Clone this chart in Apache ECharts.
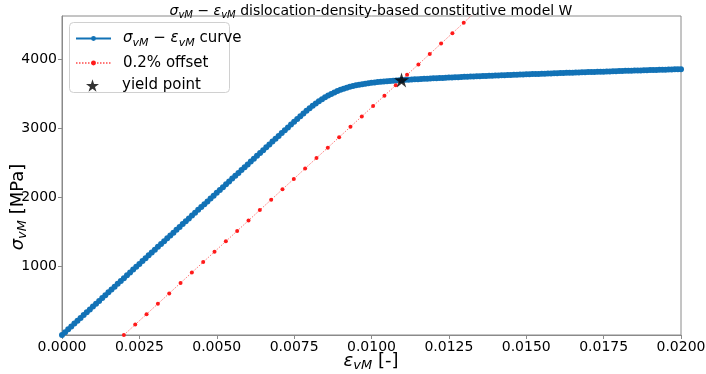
<!DOCTYPE html>
<html>
<head>
<meta charset="utf-8">
<script src="https://cdn.jsdelivr.net/npm/echarts@6/dist/echarts.min.js"></script>
<style>html,body{margin:0;padding:0;background:#fff}#c{width:706px;height:374px}</style>
</head>
<body>
<div id="c"></div>
<script>
// ---- data ----
var strain = [0.0000,0.0001,0.0002,0.0003,0.0004,0.0005,0.0006,0.0007,0.0008,0.0009,
0.0010,0.0011,0.0012,0.0013,0.0014,0.0015,0.0016,0.0017,0.0018,0.0019,
0.0020,0.0021,0.0022,0.0023,0.0024,0.0025,0.0026,0.0027,0.0028,0.0029,
0.0030,0.0031,0.0032,0.0033,0.0034,0.0035,0.0036,0.0037,0.0038,0.0039,
0.0040,0.0041,0.0042,0.0043,0.0044,0.0045,0.0046,0.0047,0.0048,0.0049,
0.0050,0.0051,0.0052,0.0053,0.0054,0.0055,0.0056,0.0057,0.0058,0.0059,
0.0060,0.0061,0.0062,0.0063,0.0064,0.0065,0.0066,0.0067,0.0068,0.0069,
0.0070,0.0071,0.0072,0.0073,0.0074,0.0075,0.0076,0.0077,0.0078,0.0079,
0.0080,0.0081,0.0082,0.0083,0.0084,0.0085,0.0086,0.0087,0.0088,0.0089,
0.0090,0.0091,0.0092,0.0093,0.0094,0.0095,0.0096,0.0097,0.0098,0.0099,
0.0100,0.0101,0.0102,0.0103,0.0104,0.0105,0.0106,0.0107,0.0108,0.0109,
0.0110,0.0111,0.0112,0.0113,0.0114,0.0115,0.0116,0.0117,0.0118,0.0119,
0.0120,0.0121,0.0122,0.0123,0.0124,0.0125,0.0126,0.0127,0.0128,0.0129,
0.0130,0.0131,0.0132,0.0133,0.0134,0.0135,0.0136,0.0137,0.0138,0.0139,
0.0140,0.0141,0.0142,0.0143,0.0144,0.0145,0.0146,0.0147,0.0148,0.0149,
0.0150,0.0151,0.0152,0.0153,0.0154,0.0155,0.0156,0.0157,0.0158,0.0159,
0.0160,0.0161,0.0162,0.0163,0.0164,0.0165,0.0166,0.0167,0.0168,0.0169,
0.0170,0.0171,0.0172,0.0173,0.0174,0.0175,0.0176,0.0177,0.0178,0.0179,
0.0180,0.0181,0.0182,0.0183,0.0184,0.0185,0.0186,0.0187,0.0188,0.0189,
0.0190,0.0191,0.0192,0.0193,0.0194,0.0195,0.0196,0.0197,0.0198,0.0199,
0.0200];
var stress = [0,41,82,124,165,206,247,288,330,371,
412,453,494,536,577,618,659,700,742,783,
824,865,906,948,989,1030,1071,1112,1154,1195,
1236,1277,1318,1360,1401,1442,1483,1524,1566,1607,
1648,1689,1730,1772,1813,1854,1895,1936,1978,2019,
2060,2101,2142,2184,2225,2266,2307,2348,2390,2431,
2472,2513,2554,2596,2637,2678,2719,2760,2802,2843,
2884,2925,2966,3008,3049,3090,3131,3171,3210,3248,
3285,3320,3353,3385,3415,3443,3469,3493,3515,3535,
3553,3569,3583,3596,3607,3617,3626,3634,3641,3648,
3654,3659,3664,3669,3673,3677,3681,3685,3689,3692,
3695,3698,3700,3702,3705,3707,3710,3712,3714,3717,
3719,3721,3723,3725,3727,3730,3732,3734,3736,3738,
3740,3742,3744,3746,3748,3750,3751,3753,3755,3757,
3759,3761,3763,3764,3766,3768,3770,3772,3773,3775,
3777,3779,3780,3782,3783,3785,3787,3788,3790,3791,
3793,3795,3796,3798,3799,3801,3803,3804,3806,3807,
3809,3810,3812,3813,3815,3816,3818,3819,3821,3822,
3824,3825,3827,3828,3830,3831,3832,3834,3835,3837,
3838,3839,3841,3842,3844,3845,3846,3848,3849,3851,
3852];
var offsetStrain = [0.002,0.002366,0.002732,0.003098,0.003464,0.00383,0.004196,0.004562,0.004928,0.005294,
0.00566,0.006026,0.006392,0.006758,0.007124,0.00749,0.007856,0.008222,0.008588,0.008954,
0.00932,0.009686,0.010052,0.010418,0.010784,0.01115,0.011516,0.011882,0.012248,0.012614,
0.01298,0.013346];
var offsetStress = [0,151,302,452,603,754,905,1056,1206,1357,
1508,1659,1810,1960,2111,2262,2413,2564,2714,2865,
3016,3167,3318,3468,3619,3770,3921,4072,4222,4373,
4524,4675];
var yieldStrain = [0.01097];
var yieldStress = [3696];
var yTicks = [1000, 2000, 3000, 4000];
var yMax = 4622;

function zip(a, b) { var r = []; for (var i = 0; i < a.length; i++) r.push([a[i], b[i]]); return r; }

var FONT = 'DejaVu Sans';
var chart = echarts.init(document.getElementById('c'), null, {renderer: 'canvas'});
var spine = '#8a8a8a';
var star = 'path://M50,0 L61.2,34.5 L97.6,34.5 L68.2,55.9 L79.4,90.5 L50,69.1 L20.6,90.5 L31.8,55.9 L2.4,34.5 L38.8,34.5 Z';

function richSet(fs, lh) {
  return {
    it: {fontFamily: FONT, fontStyle: 'italic', fontWeight: 'normal', fontSize: fs, lineHeight: lh, color: '#000'},
    sub: {fontFamily: FONT, fontStyle: 'italic', fontWeight: 'normal', fontSize: Math.round(fs * 0.7), lineHeight: Math.round(fs * 0.7), verticalAlign: 'bottom', color: '#000'},
    n: {fontFamily: FONT, fontWeight: 'normal', fontSize: fs, lineHeight: lh, color: '#000'},
    sp: {fontFamily: FONT, fontSize: fs, lineHeight: lh, width: 7},
    sp2: {fontFamily: FONT, fontSize: fs, lineHeight: lh, width: 18}
  };
}

var legendCommon = {
  orient: 'vertical', itemGap: 4, padding: 0,
  textStyle: {fontFamily: FONT, fontSize: 15, color: '#000', rich: richSet(15, 20)},
  formatter: function (name) {
    if (name === 'curve') return '{sp| }{it|σ}{sub|vM}{n| − }{it|ε}{sub|vM}{n| curve}';
    if (name === 'offset') return '{sp| }{n|0.2% offset}';
    return '{sp2| }{n|yield point}';
  }
};

var option = {
  animation: false,
  backgroundColor: '#fff',
  title: {
    text: '{it|σ}{sub|vM}{n| − }{it|ε}{sub|vM}{n| dislocation-density-based constitutive model W}',
    left: 366, top: -3, textAlign: 'center',
    textStyle: {fontFamily: FONT, fontSize: 14, fontWeight: 'normal', rich: richSet(14, 18)}
  },
  grid: {left: 62, right: 25, top: 16, bottom: 39, show: true, borderColor: spine, borderWidth: 1, containLabel: false, outerBoundsMode: 'none'},
  legend: [
    Object.assign({}, legendCommon, {left: 75, top: 31, itemWidth: 35, itemHeight: 6, itemGap: 7, data: ['curve', 'offset']}),
    Object.assign({}, legendCommon, {left: 86, top: 78, itemWidth: 13, itemHeight: 13, data: [{name: 'yield', icon: star}]})
  ],
  graphic: [
    {type: 'rect', left: 69, top: 22, shape: {width: 160, height: 70, r: 4}, z: 4,
     style: {fill: 'rgba(255,255,255,0.85)', stroke: '#d0d0d0', lineWidth: 1}},
    {type: 'text', x: 18, y: 207, rotation: Math.PI / 2, z: 5,
     style: {text: '{it|σ}{sub|vM}{n| [MPa]}', align: 'center', verticalAlign: 'middle', rich: richSet(18, 22)}},
    {type: 'text', x: 371, y: 361, z: 5,
     style: {text: '{it|ε}{sub|vM}{n| [-]}', align: 'center', verticalAlign: 'middle', rich: richSet(18, 22)}}
  ],
  xAxis: {
    type: 'value', min: 0, max: 0.02, interval: 0.0025,
    axisLine: {lineStyle: {color: spine}},
    axisTick: {inside: false, length: 4, lineStyle: {color: spine}},
    axisLabel: {fontFamily: FONT, fontSize: 14, color: '#000', margin: 5, formatter: function (v) { return v.toFixed(4); }},
    splitLine: {show: false}
  },
  yAxis: {
    type: 'value', min: 0, max: yMax,
    axisLine: {show: true, lineStyle: {color: spine}},
    axisTick: {show: true, length: 4, lineStyle: {color: spine}, customValues: yTicks},
    axisLabel: {fontFamily: FONT, fontSize: 14, color: '#000', margin: 5, customValues: yTicks, formatter: function (v) { return String(v); }},
    splitLine: {show: false}
  },
  series: [
    {
      name: 'curve', type: 'line', data: zip(strain, stress),
      showAllSymbol: true, symbol: 'circle', symbolSize: 6,
      itemStyle: {color: '#1272b6'}, lineStyle: {color: '#1272b6', width: 1.5},
      z: 2
    },
    {
      name: 'offset', type: 'line', data: zip(offsetStrain, offsetStress),
      showAllSymbol: true, symbol: 'circle', symbolSize: 4, clip: true,
      itemStyle: {color: '#ff1a1a'}, lineStyle: {color: 'rgba(255,60,60,0.7)', width: 1, type: [1.5, 1.5]},
      z: 3
    },
    {
      name: 'yield', type: 'scatter', data: zip(yieldStrain, yieldStress),
      symbol: star, symbolSize: 15, itemStyle: {color: '#000'}, z: 5
    }
  ]
};
chart.setOption(option);
</script>
</body>
</html>
